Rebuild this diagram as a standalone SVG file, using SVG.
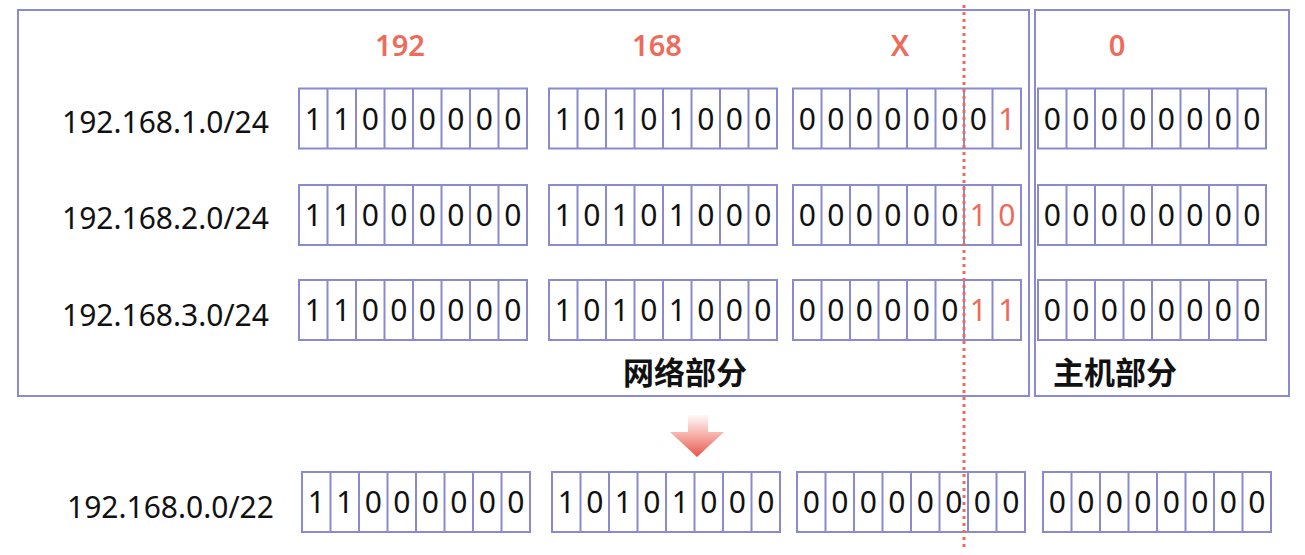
<svg xmlns="http://www.w3.org/2000/svg" xmlns:xlink="http://www.w3.org/1999/xlink" width="1305" height="555" viewBox="0 0 1305 555">
<style>
.box{fill:none;stroke:#8a8ad0;stroke-width:2}
.cell{fill:#fff;stroke:#8a8ad0;stroke-width:2}
.div{stroke:#8a8ad0;stroke-width:2}
.bit{font-family:"Noto Sans","Open Sans","DejaVu Sans",sans-serif;font-size:30px;fill:#111;text-anchor:middle}
.red{fill:#ee6b5b}
.lbl{font-family:"Noto Sans","Open Sans","DejaVu Sans",sans-serif;font-size:30px;fill:#111}
.top{font-family:"Noto Sans","Open Sans","DejaVu Sans",sans-serif;font-size:29px;font-weight:600;fill:#ee6b5b;text-anchor:middle}
.cn{font-family:"Noto Sans CJK SC","Noto Sans",sans-serif;font-size:31px;font-weight:700;fill:#111}
</style>
<defs>
<g id="frame">
<rect class="cell" x="0" y="0" width="228" height="60"/>
<path class="div" d="M28.5 0V60M57 0V60M85.5 0V60M114 0V60M142.5 0V60M171 0V60M199.5 0V60"/>
</g>
<linearGradient id="ag" x1="0" y1="0" x2="0" y2="1">
<stop offset="0" stop-color="#ee6b5b" stop-opacity="0.05"/>
<stop offset="1" stop-color="#e8544a"/>
</linearGradient>
</defs>

<g id="network-box"><rect class="box" x="18" y="10" width="1011" height="386"/><text class="cn" x="623" y="384">网络部分</text></g>
<g id="host-box"><rect class="box" x="1035" y="10" width="254" height="386"/><text class="cn" x="1053" y="384">主机部分</text></g>

<g id="headers">
<text class="top" x="400" y="56">192</text>
<text class="top" x="657" y="56">168</text>
<text class="top" x="900" y="56">X</text>
<text class="top" x="1117" y="56">0</text>
</g>

<g id="row1">
<text class="lbl" x="62" y="133">192.168.1.0/24</text>
<g transform="translate(299,88.5)"><use xlink:href="#frame"/><text class="bit" x="14.25 42.75 71.25 99.75 128.25 156.75 185.25 213.75" y="41">11000000</text></g>
<g transform="translate(549,88.5)"><use xlink:href="#frame"/><text class="bit" x="14.25 42.75 71.25 99.75 128.25 156.75 185.25 213.75" y="41">10101000</text></g>
<g transform="translate(793,88.5)"><use xlink:href="#frame"/><text class="bit" x="14.25 42.75 71.25 99.75 128.25 156.75 185.25" y="41">0000000</text><text class="bit red" x="213.75" y="41">1</text></g>
<g transform="translate(1038,88.5)"><use xlink:href="#frame"/><text class="bit" x="14.25 42.75 71.25 99.75 128.25 156.75 185.25 213.75" y="41">00000000</text></g>
</g>

<g id="row2">
<text class="lbl" x="62" y="229">192.168.2.0/24</text>
<g transform="translate(299,185)"><use xlink:href="#frame"/><text class="bit" x="14.25 42.75 71.25 99.75 128.25 156.75 185.25 213.75" y="41">11000000</text></g>
<g transform="translate(549,185)"><use xlink:href="#frame"/><text class="bit" x="14.25 42.75 71.25 99.75 128.25 156.75 185.25 213.75" y="41">10101000</text></g>
<g transform="translate(793,185)"><use xlink:href="#frame"/><text class="bit" x="14.25 42.75 71.25 99.75 128.25 156.75" y="41">000000</text><text class="bit red" x="185.25 213.75" y="41">10</text></g>
<g transform="translate(1038,185)"><use xlink:href="#frame"/><text class="bit" x="14.25 42.75 71.25 99.75 128.25 156.75 185.25 213.75" y="41">00000000</text></g>
</g>

<g id="row3">
<text class="lbl" x="62" y="326">192.168.3.0/24</text>
<g transform="translate(299,280)"><use xlink:href="#frame"/><text class="bit" x="14.25 42.75 71.25 99.75 128.25 156.75 185.25 213.75" y="41">11000000</text></g>
<g transform="translate(549,280)"><use xlink:href="#frame"/><text class="bit" x="14.25 42.75 71.25 99.75 128.25 156.75 185.25 213.75" y="41">10101000</text></g>
<g transform="translate(793,280)"><use xlink:href="#frame"/><text class="bit" x="14.25 42.75 71.25 99.75 128.25 156.75" y="41">000000</text><text class="bit red" x="185.25 213.75" y="41">11</text></g>
<g transform="translate(1038,280)"><use xlink:href="#frame"/><text class="bit" x="14.25 42.75 71.25 99.75 128.25 156.75 185.25 213.75" y="41">00000000</text></g>
</g>

<g id="arrow">
<path d="M688 415H708V432H724L697 457L670 432H688Z" fill="url(#ag)"/>
</g>

<g id="result">
<text class="lbl" x="67" y="518">192.168.0.0/22</text>
<g transform="translate(302,472)"><use xlink:href="#frame"/><text class="bit" x="14.25 42.75 71.25 99.75 128.25 156.75 185.25 213.75" y="41">11000000</text></g>
<g transform="translate(552,472)"><use xlink:href="#frame"/><text class="bit" x="14.25 42.75 71.25 99.75 128.25 156.75 185.25 213.75" y="41">10101000</text></g>
<g transform="translate(797,472)"><use xlink:href="#frame"/><text class="bit" x="14.25 42.75 71.25 99.75 128.25 156.75 185.25 213.75" y="41">00000000</text></g>
<g transform="translate(1043,472)"><use xlink:href="#frame"/><text class="bit" x="14.25 42.75 71.25 99.75 128.25 156.75 185.25 213.75" y="41">00000000</text></g>
</g>

<g id="connectors">
<line x1="964" y1="5" x2="964" y2="548" stroke="#ee6b5b" stroke-width="3" stroke-dasharray="3 4"/>
</g>
</svg>
